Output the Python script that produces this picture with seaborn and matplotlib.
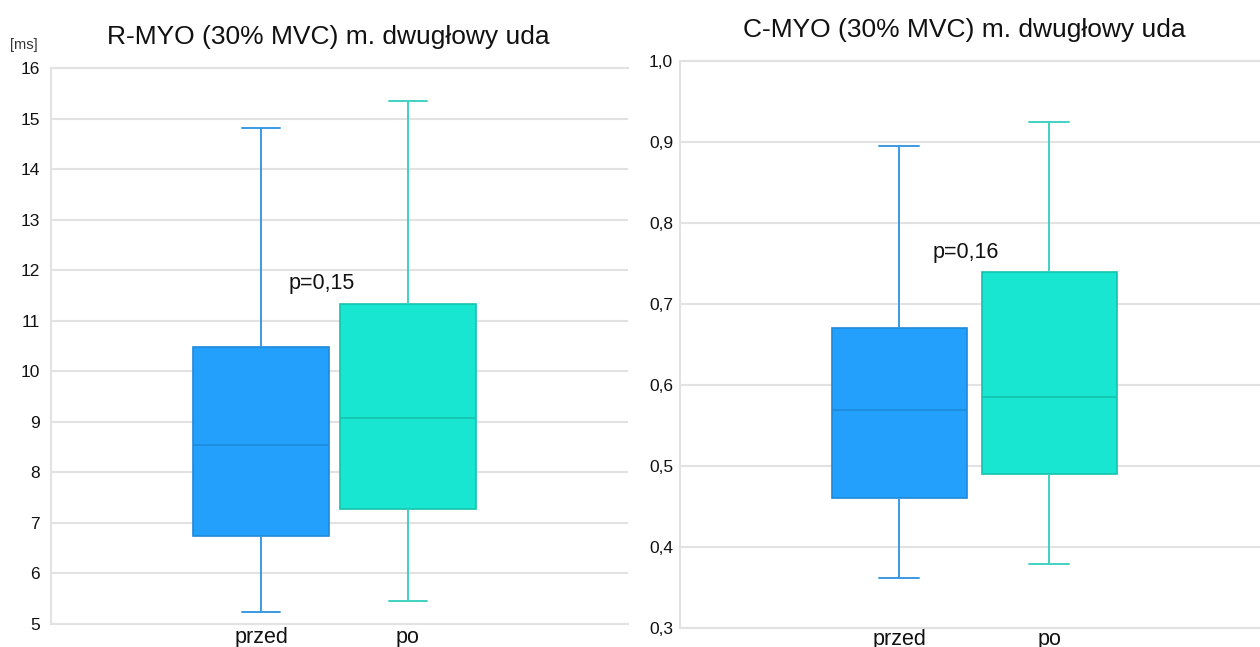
import numpy as np
import pandas as pd
import matplotlib
matplotlib.use("Agg")
import matplotlib.pyplot as plt
import seaborn as sns
from matplotlib.ticker import FixedLocator, FuncFormatter

# Groups
categories = ["przed", "po"]

# Five-number summaries per group: minimum, Q1, median, Q3, maximum
r_myo_przed = [5.24, 6.75, 8.55, 10.48, 14.81]
r_myo_po = [5.46, 7.27, 9.07, 11.33, 15.35]
c_myo_przed = [0.362, 0.460, 0.569, 0.670, 0.895]
c_myo_po = [0.379, 0.490, 0.585, 0.739, 0.925]

# Axis ticks
r_ticks = [5, 6, 7, 8, 9, 10, 11, 12, 13, 14, 15, 16]
c_ticks = [0.3, 0.4, 0.5, 0.6, 0.7, 0.8, 0.9, 1.0]

# Annotations
r_title = "R-MYO (30% MVC) m. dwugłowy uda"
c_title = "C-MYO (30% MVC) m. dwugłowy uda"
r_pvalue = "p=0,15"
c_pvalue = "p=0,16"
r_unit = "[ms]"

fill_colors = ["#22A0FC", "#18E6D0"]
edge_colors = ["#1E88DA", "#14C2AE"]
whisker_colors = ["#3A9AE4", "#3ED2C1"]
grid_color = "#E2E2E2"

sns.set_theme(style="white")
plt.rcParams["font.family"] = ["Liberation Sans", "DejaVu Sans"]


def long_frame(przed, po):
    return pd.DataFrame({
        "okres": [categories[0]] * len(przed) + [categories[1]] * len(po),
        "wartosc": list(przed) + list(po),
    })


def draw_panel(ax, df, width, capwidth, ticks, fmt, xlim):
    sns.boxplot(data=df, x="okres", y="wartosc", hue="okres",
                order=categories, hue_order=categories, palette=fill_colors,
                saturation=1, width=width, whis=(0, 100), linewidth=1.2,
                capwidths=capwidth, legend=False, ax=ax)
    for cont, ec, wc in zip(ax.containers, edge_colors, whisker_colors):
        for b in cont.boxes:
            b.set_edgecolor(ec)
            b.set_linewidth(1.2)
        for m in cont.medians:
            m.set_color(ec)
            m.set_linewidth(1.2)
        for w in list(cont.whiskers) + list(cont.caps):
            w.set_color(wc)
            w.set_linewidth(1.4)
    ax.set_xlim(*xlim)
    ax.set_ylim(ticks[0], ticks[-1])
    ax.yaxis.set_major_locator(FixedLocator(ticks))
    ax.yaxis.set_major_formatter(FuncFormatter(fmt))
    ax.set_axisbelow(True)
    ax.yaxis.grid(True, color=grid_color, linewidth=1.5)
    ax.xaxis.grid(False)
    for side in ["left", "bottom", "top"]:
        ax.spines[side].set_visible(True)
        ax.spines[side].set_color(grid_color)
        ax.spines[side].set_linewidth(1.5)
    ax.spines["right"].set_visible(False)
    ax.set_xlabel("")
    ax.set_ylabel("")
    ax.tick_params(axis="both", length=0, colors="#111111")
    ax.tick_params(axis="x", labelsize=15.5, pad=2)
    ax.tick_params(axis="y", labelsize=12.5)


fig = plt.figure(figsize=(12.6, 6.47), dpi=100)

ax1 = fig.add_axes([51 / 1260, 1 - 624 / 647, 577 / 1260, 556 / 647])
draw_panel(ax1, long_frame(r_myo_przed, r_myo_po), 0.92, 0.265, r_ticks,
           lambda v, p: f"{v:.0f}", (-1.429, 2.497))
ax1.tick_params(axis="y", pad=8)
ax1.text(0.41, 11.73, r_pvalue, ha="center", va="center", fontsize=15.5,
         color="#111111")

ax2 = fig.add_axes([680 / 1260, 1 - 628 / 647, 580 / 1260, 567 / 647])
draw_panel(ax2, long_frame(c_myo_przed, c_myo_po), 0.9, 0.265, c_ticks,
           lambda v, p: f"{v:.1f}".replace(".", ","), (-1.461, 2.405))
ax2.tick_params(axis="y", pad=5)
ax2.tick_params(axis="x", pad=1)
ax2.text(0.445, 0.764, c_pvalue, ha="center", va="center", fontsize=15.5,
         color="#111111")

fig.text(328 / 1260, 1 - 44 / 647, r_title, ha="center", va="baseline",
         fontsize=19, color="#111111")
fig.text(964 / 1260, 1 - 37 / 647, c_title, ha="center", va="baseline",
         fontsize=19, color="#111111")
fig.text(10 / 1260, 1 - 45 / 647, r_unit, ha="left", va="center",
         fontsize=10.5, color="#333333")

fig.savefig("out.png", dpi=100, facecolor="white")
